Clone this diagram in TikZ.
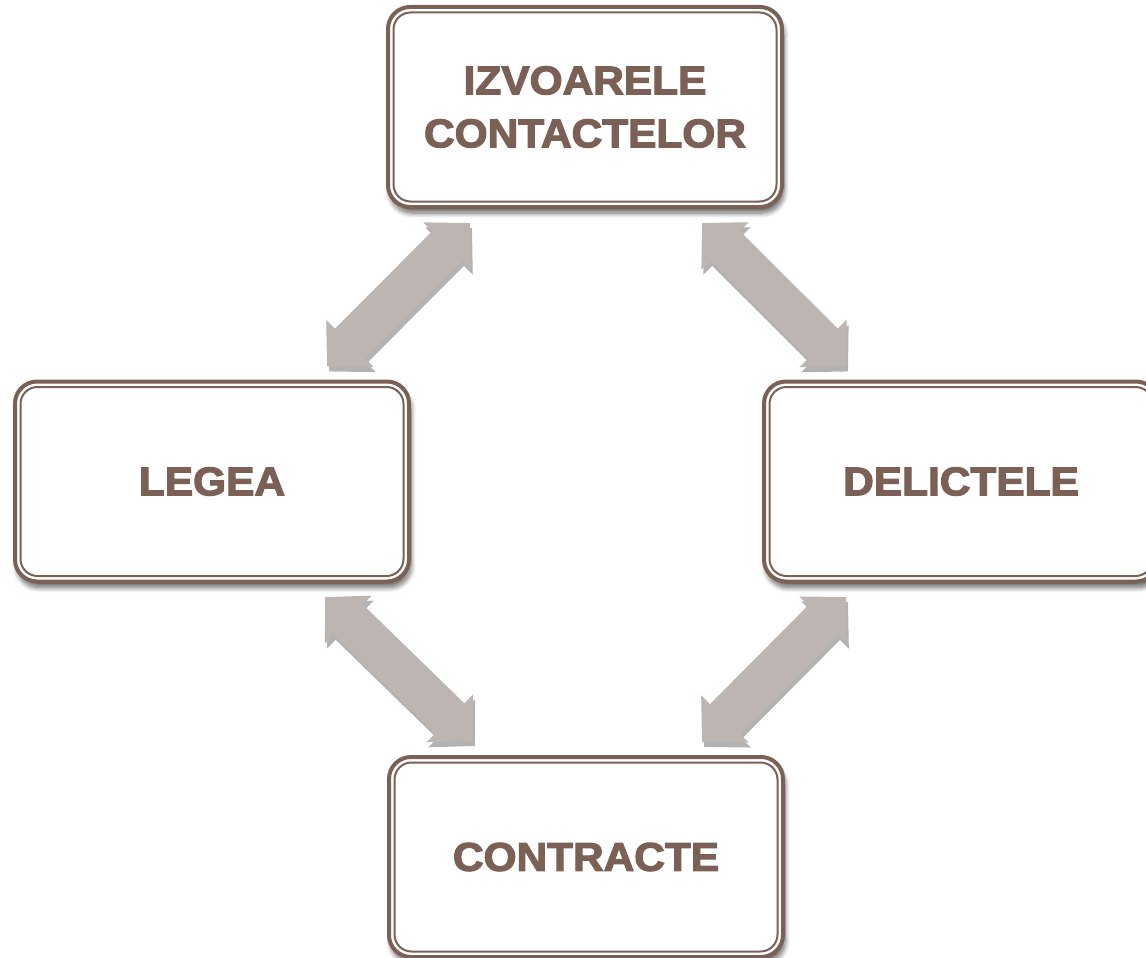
\documentclass[tikz,border=0pt]{standalone}
\usepackage{fontspec}
\newfontfamily\boxfont[FakeStretch=1.06,BoldFeatures={FakeBold=3}]{Liberation Sans}
\usetikzlibrary{calc,arrows.meta,shadows.blur}
\definecolor{brn}{HTML}{7A6055}
\definecolor{arr}{HTML}{BDB5B2}
\begin{document}
\begin{tikzpicture}[x=1pt,y=-1pt,
 box/.style={draw=brn, line width=4pt, rounded corners=22pt, fill=white,
   minimum width=394pt, minimum height=200pt, outer sep=0pt, inner sep=0pt,
   align=center, text=brn, font=\boxfont\bfseries\fontsize{40}{53}\selectfont,
   blur shadow={shadow xshift=2pt, shadow yshift=-6pt, shadow blur steps=10,
     shadow blur radius=5pt, shadow opacity=60}},
 innerline/.style={draw=brn, line width=2pt, rounded corners=17pt},
 link/.style={draw=arr, line width=42pt,
   {Triangle[width=65pt,length=32.5pt]}-{Triangle[width=65pt,length=32.5pt]}},
 linkshadow/.style={draw=black!30, line width=42pt,
   {Triangle[width=65pt,length=32.5pt]}-{Triangle[width=65pt,length=32.5pt]},
   transform canvas={shift={(2pt,-5pt)}}}
]
\useasboundingbox (0,0) rectangle (1146,958);
\clip (0,0) rectangle (1146,958);

\node[box] (t) at (585,107) {IZVOARELE\\CONTACTELOR};
\node[box] (l) at (212,481.5) {LEGEA};
\node[box] (r) at (961,481.5) {DELICTELE};
\node[box] (b) at (586,857) {CONTRACTE};

\foreach \n in {t,l,r,b}{
  \draw[innerline] ([shift={(5.5pt,-5.5pt)}]\n.north west) rectangle ([shift={(-5.5pt,5.5pt)}]\n.south east);
}

\coordinate (tl1) at ($(t.south west)+(82,16)$);
\coordinate (tl2) at ($(l.north east)+(-82,-15)$);
\coordinate (tr1) at ($(t.south east)+(-80,16)$);
\coordinate (tr2) at ($(r.north west)+(82,-15)$);
\coordinate (bl1) at ($(l.south east)+(-84,15.5)$);
\coordinate (bl2) at ($(b.north west)+(84,-16)$);
\coordinate (br1) at ($(r.south west)+(82,15.5)$);
\coordinate (br2) at ($(b.north east)+(-81,-15)$);

\foreach \a/\z in {tl1/tl2,tr1/tr2,bl1/bl2,br1/br2}{
  \draw[linkshadow] (\a) -- (\z);
}
\foreach \a/\z in {tl1/tl2,tr1/tr2,bl1/bl2,br1/br2}{
  \draw[link] (\a) -- (\z);
}
\end{tikzpicture}
\end{document}
